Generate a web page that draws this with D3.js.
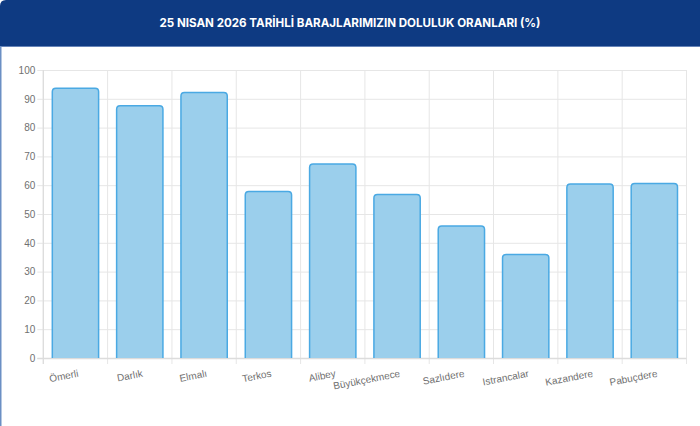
<!DOCTYPE html>
<html lang="tr">
<head>
    <meta charset="UTF-8">
    <title>Baraj Doluluk Oranları</title>
    <style>
        html, body { margin: 0; padding: 0; background: #fff; }
        svg { display: block; }
        .grid line { stroke: #e6e6e6; }
        .tick text { fill: #707070; font-family: "Liberation Sans", Arial, sans-serif; font-size: 10px; }
        .bar { fill: #9bcfec; stroke: #4aa9e3; stroke-width: 1.5; }
    </style>
</head>
<body>
    <script src="https://d3js.org/d3.v7.min.js"></script>
    <script>
        const title = "25 NISAN 2026 TARİHLİ BARAJLARIMIZIN DOLULUK ORANLARI (%)";
        const dams = ["Ömerli", "Darlık", "Elmalı", "Terkos", "Alibey", "Büyükçekmece",
                      "Sazlıdere", "Istrancalar", "Kazandere", "Pabuçdere"];
        const fill = [93.7, 87.6, 92.2, 57.8, 67.4, 56.8, 45.8, 35.9, 60.4, 60.6];
        const yTicks = [0, 10, 20, 30, 40, 50, 60, 70, 80, 90, 100];

        const w = 700, h = 426;
        const padL = 43.3, padR = 686.5, padT = 70, padB = 358;

        const svg = d3.select("body").append("svg")
            .attr("width", w)
            .attr("height", h);

        // header band
        svg.append("path")
            .attr("d", "M0,6 Q0,0 6,0 H" + w + " V46 H0 Z")
            .attr("fill", "#0e3a82");
        svg.append("line")
            .attr("x1", 0).attr("x2", w).attr("y1", 46.5).attr("y2", 46.5)
            .attr("stroke", "#6684b8").attr("stroke-width", 1);
        svg.append("line")
            .attr("x1", 0.75).attr("x2", 0.75).attr("y1", 46).attr("y2", h)
            .attr("stroke", "#6b8fc4").attr("stroke-width", 1.5);

        svg.append("text")
            .attr("x", w / 2)
            .attr("y", 27)
            .attr("text-anchor", "middle")
            .attr("fill", "#fff")
            .attr("font-family", "Inter, 'Open Sans', sans-serif")
            .attr("font-weight", 700)
            .attr("font-size", 12)
            .attr("textLength", 381)
            .attr("lengthAdjust", "spacingAndGlyphs")
            .text(title);

        const x = d3.scaleBand()
            .domain(dams)
            .range([padL, padR])
            .paddingInner(0.28)
            .paddingOuter(0.14);

        const yScale = d3.scaleLinear()
            .domain([0, 100])
            .range([padB, padT]);

        const step = (padR - padL) / dams.length;

        // horizontal grid + y labels
        const gy = svg.append("g")
            .attr("class", "grid")
            .attr("transform", "translate(" + padR + ",0)");
        gy.call(d3.axisLeft(yScale).tickValues(yTicks).tickSize(padR - padL + 6).tickFormat(""));
        gy.select(".domain").remove();

        svg.append("g")
            .attr("transform", "translate(" + (padL - 6) + ",0)")
            .call(d3.axisLeft(yScale).tickValues(yTicks).tickSize(0).tickPadding(2))
            .call(g => g.select(".domain").remove());

        // vertical grid lines at category boundaries
        const bounds = d3.range(dams.length + 1).map(i => padL + i * step);
        svg.append("g").attr("class", "grid")
            .selectAll("line")
            .data(bounds)
            .enter()
            .append("line")
            .attr("x1", d => d).attr("x2", d => d)
            .attr("y1", padT).attr("y2", padB + 6);

        // axis lines
        svg.append("line")
            .attr("x1", padL - 6).attr("x2", padR)
            .attr("y1", padB + 0.5).attr("y2", padB + 0.5)
            .attr("stroke", "#dcdcdc").attr("stroke-width", 1.5);
        svg.append("line")
            .attr("x1", padL).attr("x2", padL)
            .attr("y1", padT).attr("y2", padB + 6)
            .attr("stroke", "#dcdcdc").attr("stroke-width", 1.2);

        // bars, rounded at the top
        const r = 3.5;
        svg.selectAll(".bar")
            .data(dams)
            .enter()
            .append("path")
            .attr("class", "bar")
            .attr("d", (d, i) => {
                const x0 = x(d), x1 = x(d) + x.bandwidth();
                const y0 = yScale(fill[i]), y1 = yScale(0);
                return "M" + x0 + "," + y1 + " V" + (y0 + r) +
                       " Q" + x0 + "," + y0 + " " + (x0 + r) + "," + y0 +
                       " H" + (x1 - r) +
                       " Q" + x1 + "," + y0 + " " + x1 + "," + (y0 + r) +
                       " V" + y1;
            })
            .append("title")
            .text((d, i) => d + ": " + fill[i]);

        // rotated category labels
        svg.append("g")
            .selectAll("text")
            .data(dams)
            .enter()
            .append("text")
            .attr("class", "tick")
            .attr("transform", d => "translate(" + (x(d) + x.bandwidth() / 2 + 3) + "," + 374 + ") rotate(-11)")
            .attr("text-anchor", "end")
            .attr("dominant-baseline", "middle")
            .attr("fill", "#707070")
            .attr("font-family", "'Liberation Sans', Arial, sans-serif")
            .attr("font-size", 10)
            .text(d => d);
    </script>
</body>
</html>
